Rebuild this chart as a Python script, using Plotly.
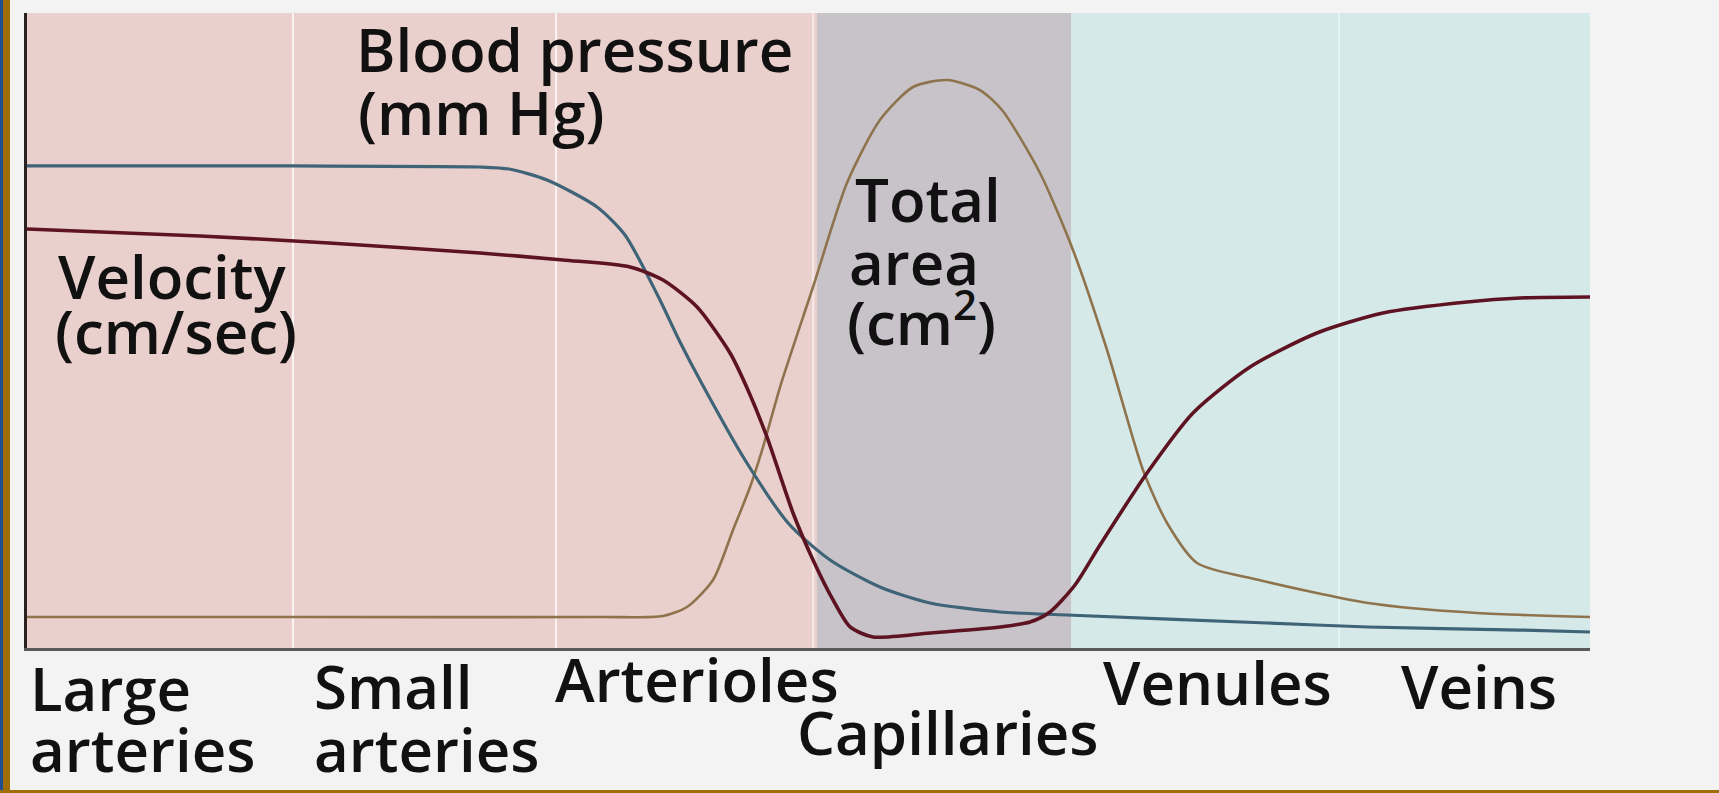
import plotly.graph_objects as go

# ---- data (x: position along circulation 0-100, y: relative value 0-100) ----
pressure_x = [0, 17.02, 28.98, 30.84, 33.27, 36.47, 38.26, 40.37, 41.78, 43.19, 45.94, 48.75,
              51.38, 54.57, 57.77, 62.25, 66.54, 79.33, 85.80, 95.52, 100]
pressure_y = [75.91, 75.91, 75.75, 75.43, 73.70, 69.45, 65.04, 55.43, 48.19, 41.57, 29.61, 19.53,
              13.86, 9.61, 7.09, 5.67, 5.20, 3.94, 3.31, 2.83, 2.52]

velocity_x = [0, 11.07, 19.32, 28.98, 34.29, 38.58, 40.69, 42.87, 44.98, 46.07, 47.34, 49.01,
              50.29, 51.57, 52.66, 54.13, 57.77, 62.25, 64.17, 65.45, 67.05, 68.65, 71.66, 74.60,
              78.25, 82.53, 86.76, 92.13, 95.52, 100]
velocity_y = [65.98, 64.88, 63.78, 62.20, 61.10, 60.00, 57.95, 53.70, 46.46, 40.94, 33.23, 21.26,
              13.86, 7.56, 3.31, 1.73, 2.36, 3.31, 4.09, 5.67, 9.92, 16.22, 27.56, 37.01,
              44.25, 49.61, 52.76, 54.49, 55.12, 55.28]

area_x = [0, 17.47, 36.66, 40.69, 42.23, 43.89, 45.17, 46.26, 47.09, 48.18, 50.29, 52.46, 54.57,
          56.69, 58.86, 60.97, 62.38, 64.81, 66.92, 69.10, 71.40, 72.94, 74.86, 78.82, 85.80,
          92.77, 100]
area_y = [4.88, 4.88, 4.88, 5.04, 6.46, 10.71, 18.58, 25.35, 31.65, 41.10, 56.85, 73.23, 83.15,
          88.35, 89.45, 87.87, 84.72, 74.80, 62.68, 46.93, 28.03, 19.69, 13.39, 10.71, 7.09,
          5.51, 4.88]

vessel_labels = ["Large<br>arteries", "Small<br>arteries", "Arterioles", "Capillaries",
                 "Venules", "Veins"]
series_labels = ["Blood pressure<br>(mm Hg)", "Velocity<br>(cm/sec)", "Total<br>area<br>(cm<sup>2</sup>)"]

# ---- geometry helpers (pixel -> paper) ----
W, H = 1719, 793
L, R, T, B = 27, 1590, 13, 648


def px(x):
    return (x - L) / (R - L)


def py(y):
    return (B - y) / (B - T)


fig = go.Figure()

fig.add_trace(go.Scatter(x=area_x, y=area_y, mode="lines",
                         line=dict(color="#8E734C", width=2.6, shape="spline", smoothing=0.7),
                         hoverinfo="skip", showlegend=False))
fig.add_trace(go.Scatter(x=pressure_x, y=pressure_y, mode="lines",
                         line=dict(color="#3F6477", width=3.2, shape="spline", smoothing=0.7),
                         hoverinfo="skip", showlegend=False))
fig.add_trace(go.Scatter(x=velocity_x, y=velocity_y, mode="lines",
                         line=dict(color="#5E1322", width=3.6, shape="spline", smoothing=0.7),
                         hoverinfo="skip", showlegend=False))

shapes = []
# background bands
shapes.append(dict(type="rect", xref="x", yref="paper", x0=0, x1=50.54, y0=0, y1=1,
                   fillcolor="#E9D0CC", line_width=0, layer="below"))
shapes.append(dict(type="rect", xref="x", yref="paper", x0=50.54, x1=66.80, y0=0, y1=1,
                   fillcolor="#C7C3C9", line_width=0, layer="below"))
shapes.append(dict(type="rect", xref="x", yref="paper", x0=66.80, x1=100, y0=0, y1=1,
                   fillcolor="#D6E9E9", line_width=0, layer="below"))
# faint division lines
for xd, col in [(17.02, "rgba(255,255,255,0.75)"), (33.85, "rgba(255,255,255,0.75)"),
                (50.3, "rgba(255,255,255,0.55)"), (83.94, "rgba(255,255,255,0.45)")]:
    shapes.append(dict(type="line", xref="x", yref="paper", x0=xd, x1=xd, y0=0, y1=1,
                       line=dict(color=col, width=2), layer="below"))
# left decorative bar and bottom rule
shapes.append(dict(type="rect", xref="paper", yref="paper", x0=px(0), x1=px(3), y0=py(H), y1=py(0),
                   fillcolor="#1D4F8E", line_width=0))
shapes.append(dict(type="rect", xref="paper", yref="paper", x0=px(3), x1=px(10), y0=py(H), y1=py(0),
                   fillcolor="#A06C08", line_width=0))
shapes.append(dict(type="rect", xref="paper", yref="paper", x0=px(0), x1=px(W), y0=py(H), y1=py(H - 3),
                   fillcolor="#A06C08", line_width=0))

fig.update_layout(shapes=shapes)

FONT = dict(family="Open Sans", size=60, color="#111111", weight=600)
DESC = 16  # descent below baseline in px


def add_line(text, x_left, baseline):
    fig.add_annotation(text=text, xref="paper", yref="paper", x=px(x_left), y=py(baseline + DESC),
                       xanchor="left", yanchor="bottom", showarrow=False, font=FONT,
                       borderpad=0, align="left")


# vessel labels (below axis)
vessel_pos = [(29, [714, 775]), (313, [712, 775]), (554, [705]), (796, [758]),
              (1102, [708]), (1400, [712])]
for label, (xl, bls) in zip(vessel_labels, vessel_pos):
    for part, bl in zip(label.split("<br>"), bls):
        add_line(part, xl, bl)

# series labels (inside plot)
series_pos = [([355, 357], [75, 138]), ([57, 54], [302, 357]), ([854, 848, 846], [225, 288, 348])]
for label, (xls, bls) in zip(series_labels, series_pos):
    for part, xl, bl in zip(label.split("<br>"), xls, bls):
        add_line(part, xl, bl)

fig.update_layout(
    width=W, height=H,
    margin=dict(l=L, r=W - R, t=T, b=H - B, pad=0),
    paper_bgcolor="#F3F3F3",
    plot_bgcolor="#E9D0CC",
    xaxis=dict(range=[0, 100], showgrid=False, zeroline=False, showticklabels=False, ticks="",
               showline=True, linecolor="#5A5A5A", linewidth=3, fixedrange=True),
    yaxis=dict(range=[0, 100], showgrid=False, zeroline=False, showticklabels=False, ticks="",
               showline=True, linecolor="#2A2020", linewidth=3, fixedrange=True),
    showlegend=False,
)

fig.write_html("out.html", config={"displayModeBar": False},
               post_script="document.body.style.margin='0px';document.body.style.overflow='hidden';")
